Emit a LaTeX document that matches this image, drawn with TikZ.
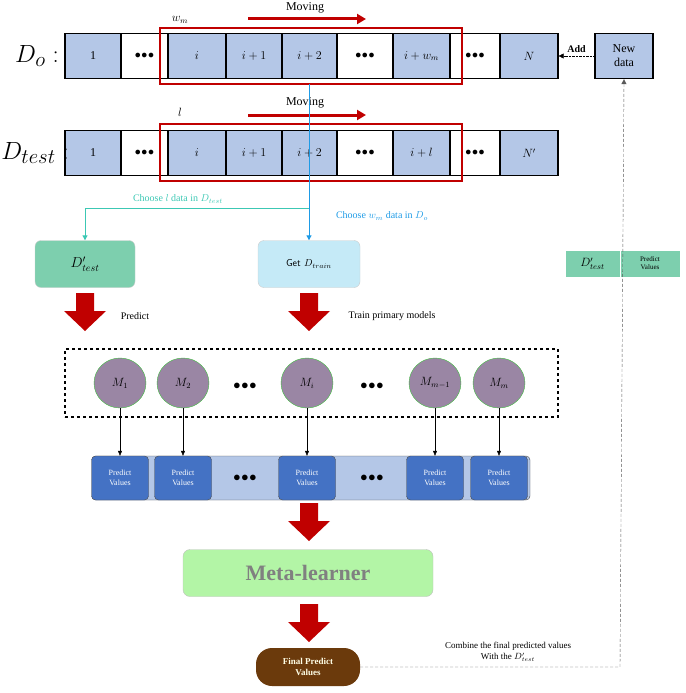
\documentclass[tikz,border=0pt]{standalone}
\usepackage{fontspec}
\setmainfont{Liberation Serif}
\usetikzlibrary{arrows.meta,shapes.geometric}
\definecolor{cellb}{HTML}{B4C7E7}
\definecolor{redf}{HTML}{C00000}
\definecolor{teal2}{HTML}{3CC8B4}
\definecolor{blue2}{HTML}{1E9BE6}
\definecolor{dgreen}{HTML}{7DCFAE}
\definecolor{lblue}{HTML}{C5EAF7}
\definecolor{pv}{HTML}{4472C4}
\definecolor{mgreen}{HTML}{B3F5A6}
\definecolor{brown2}{HTML}{6B3A0C}
\definecolor{purp}{HTML}{9A86A4}
\newcommand\bigarr[3]{\fill[redf] (#1-9,#2) -- (#1+9,#2) -- (#1+9,#2+18) -- (#1+21,#2+18) -- (#1,#3) -- (#1-21,#2+18) -- (#1-9,#2+18) -- cycle;}
\begin{document}
\begin{tikzpicture}[x=1pt,y=-1pt,
 cell/.style={draw,line width=1.2pt,fill=cellb,minimum height=45pt,inner sep=0pt,font=\large},
 wcell/.style={cell,fill=white},
 pvb/.style={draw=black!70,fill=pv,rounded corners=4pt,minimum width=57pt,minimum height=44pt,text=white,align=center,font=\footnotesize,inner sep=1pt},
 mod/.style={ellipse,draw=green!50!gray,fill=purp,minimum width=52pt,minimum height=50pt,inner sep=0pt,font=\large},
 dots/.style={font=\Large\bfseries}]
\useasboundingbox (0,0) rectangle (685,693);
% row nodes
\foreach \r/\y in {A/56,B/153}{
 \node[cell,minimum width=56pt] (\r1) at (93,\y) {1};
 \node[wcell,minimum width=47pt] (\r2) at (144.5,\y) {$\bullet\!\bullet\!\bullet$};
 \node[cell,minimum width=58pt] (\r3) at (197,\y) {$i$};
 \node[cell,minimum width=56pt] (\r4) at (254,\y) {$i+1$};
 \node[cell,minimum width=55pt] (\r5) at (309.5,\y) {$i+2$};
 \node[wcell,minimum width=56pt] (\r6) at (365,\y) {$\bullet\!\bullet\!\bullet$};
 \node[cell,minimum width=57pt] (\r7) at (421.5,\y) {};
 \node[wcell,minimum width=50pt] (\r8) at (475,\y) {$\bullet\!\bullet\!\bullet$};
 \node[cell,minimum width=58pt] (\r9) at (529,\y) {};
}
\node at (A7) {\large$i+w_m$};
\node at (B7) {\large$i+l$};
\node at (A9) {\large$N$};
\node at (B9) {\large$N'$};
\node[font=\Huge] (lo) at (37,56) {$D_o:$};
\node[font=\Huge] (lt) at (35,153) {$D_{test}:$};
\node[draw=redf,line width=1.8pt,minimum width=302pt,minimum height=56pt] (fA) at (311,56) {};
\node[draw=redf,line width=1.8pt,minimum width=302pt,minimum height=57pt] (fB) at (311,152.5) {};
\node[font=\large] (mv1) at (305,8) {Moving};
\node[font=\large] (mv2) at (305,103) {Moving};
\coordinate (a1s) at (248,19); \coordinate (a1e) at (366,19);
\coordinate (a2s) at (248,115); \coordinate (a2e) at (366,115);
\draw[redf,line width=3pt,-{Triangle[length=9pt,width=10pt]}] (a1s) -- (a1e);
\draw[redf,line width=3pt,-{Triangle[length=9pt,width=10pt]}] (a2s) -- (a2e);
\node[font=\large] (wm) at (180,20) {$w_m$};
\node[font=\large] (ll) at (180,112) {$l$};
% new data
\node[draw,line width=1.2pt,fill=cellb,minimum width=58pt,minimum height=45pt,align=center,font=\large,inner sep=0pt] (nd) at (624,56) {New\\data};
\draw[densely dotted,-{Triangle[length=5pt,width=5pt]}] (nd.west) -- (A9.east) node[midway,above,font=\bfseries] {Add};
% choose lines
\node[draw=gray!40,fill=dgreen,rounded corners=6pt,minimum width=100pt,minimum height=47pt,font=\Large] (dt) at (85,264) {$D'_{test}$};
\node[draw=gray!40,fill=lblue,rounded corners=6pt,minimum width=102pt,minimum height=47pt,font=\normalsize\sffamily] (gt) at (309,264) {Get $D_{train}$};
\coordinate (br) at (309,208);
\coordinate (top) at (309,84);
\draw[blue2,line width=1pt,-{Triangle[length=5pt,width=5pt]}] (top) -- (gt.north);
\draw[teal2,line width=1pt,-{Triangle[length=5pt,width=5pt]}] (br) -| (dt.north);
\node[teal2,font=\normalsize] (c1) at (178,199) {Choose $l$ data in $D_{test}$};
\node[blue2,font=\normalsize] (c2) at (382,216) {Choose $w_m$ data in $D_o$};
% red arrows
\bigarr{85}{293}{331}
\bigarr{309}{293}{331}
\bigarr{309}{503}{541}
\bigarr{309}{604}{642}
\node[font=\normalsize] (pr) at (135,316) {Predict};
\node[font=\normalsize] (tp) at (392,316) {Train primary models};
% models
\node[draw,dashed,line width=1.4pt,minimum width=493pt,minimum height=68pt] (db) at (311.5,383) {};
\foreach \n/\x/\t in {m1/120/{M_1},m2/183/{M_2},mi/307/{M_i},mm1/435/{M_{m-1}},mm/499/{M_m}}{
 \node[mod] (\n) at (\x,383) {$\t$};}
\node[dots] (d1) at (245,386) {$\bullet\!\bullet\!\bullet$};
\node[dots] (d2) at (372,386) {$\bullet\!\bullet\!\bullet$};
\node[draw=black!70,fill=cellb,rounded corners=4pt,minimum width=438pt,minimum height=44pt] (strip) at (311,478) {};
\foreach \n/\x in {1/120,2/183,3/307,4/435,5/499}{
 \node[pvb] (p\n) at (\x,478) {Predict\\Values};}
\foreach \a/\b in {m1/p1,m2/p2,mi/p3,mm1/p4,mm/p5}
 \draw[-{Triangle[length=5pt,width=4pt]}] (\a) -- (\b);
\node[dots] (d3) at (245,478) {$\bullet\!\bullet\!\bullet$};
\node[dots] (d4) at (372,478) {$\bullet\!\bullet\!\bullet$};
% meta
\node[draw=gray!50,fill=mgreen,rounded corners=7pt,minimum width=250pt,minimum height=47pt,text=gray,font=\fontsize{22}{24}\selectfont\bfseries] (ml) at (308,573) {Meta-learner};
\node[fill=brown2,rounded corners=16pt,minimum width=104pt,minimum height=38pt,text=white!90!yellow,align=center,font=\small\bfseries,inner sep=1pt] (fp) at (308,667) {Final Predict\\Values};
% right table
\node[draw=white,fill=dgreen,minimum width=55pt,minimum height=27pt,font=\large] (t1) at (592.5,263.5) {$D'_{test}$};
\node[draw=white,fill=dgreen,minimum width=60pt,minimum height=27pt,align=center,font=\scriptsize,inner sep=0pt] (t2) at (650,263.5) {Predict\\Values};
\coordinate (cr) at (620,667);
\draw[densely dashed,gray!70!black,-{Triangle[length=5pt,width=5pt]}] (fp.east) -- (cr) -- (nd.south);
\node[align=center,font=\small] (cb) at (508,652) {Combine the final predicted values\\With the $D'_{test}$};
\end{tikzpicture}
\end{document}
